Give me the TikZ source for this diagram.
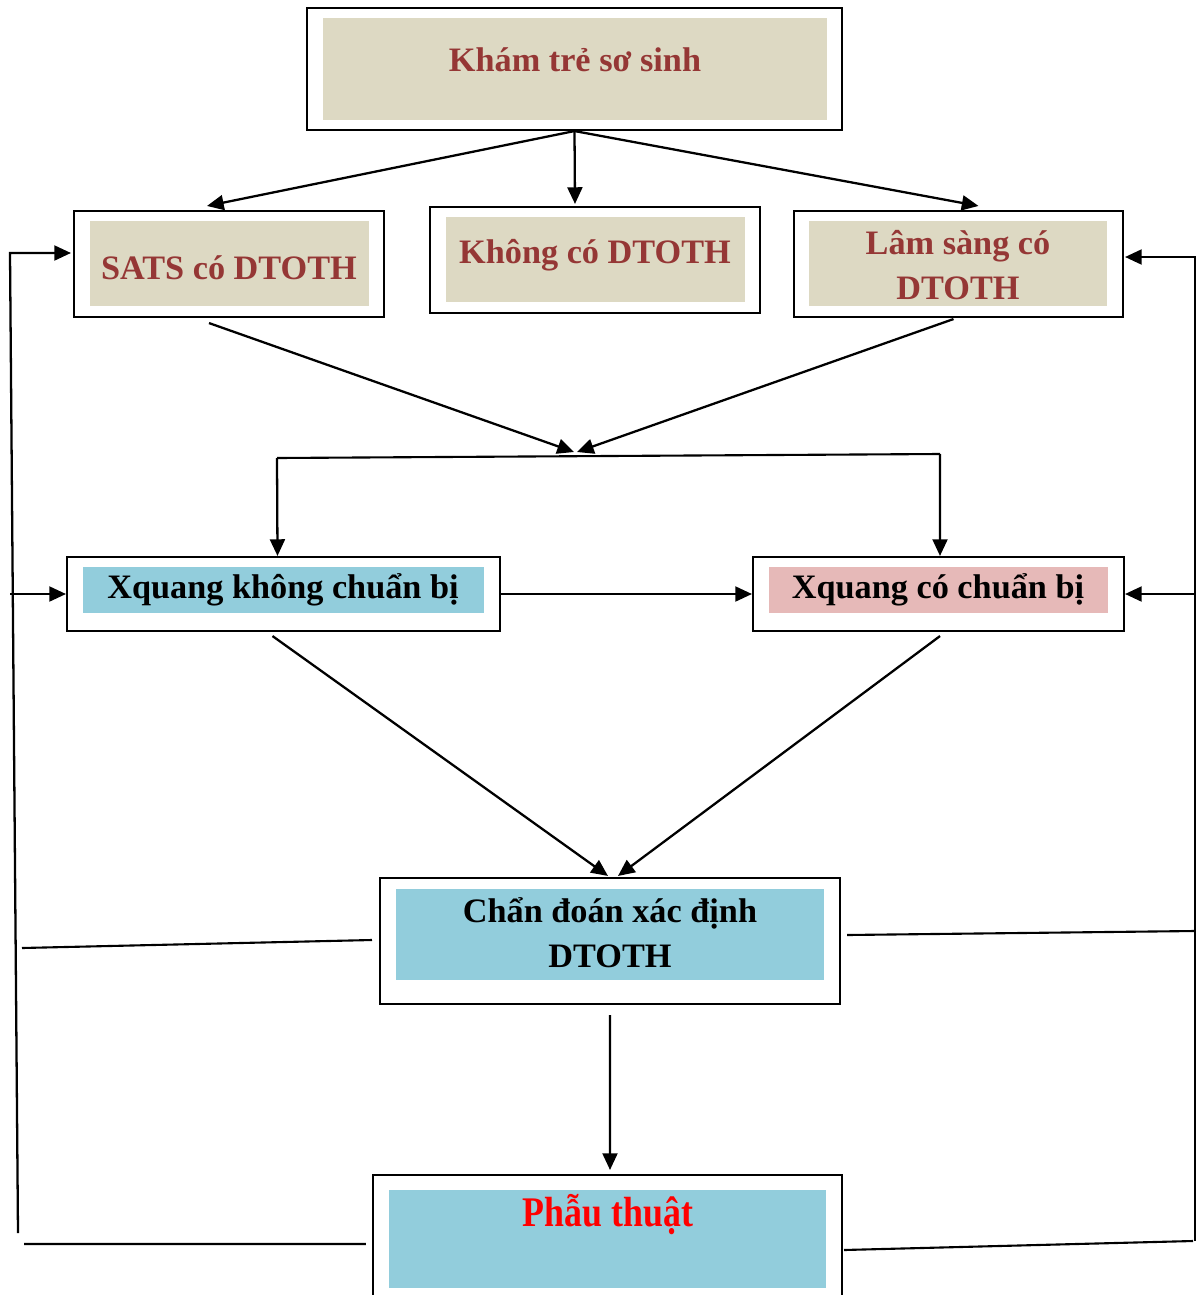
\documentclass[tikz,border=0pt]{standalone}
\usepackage{fontspec}
\setmainfont{Liberation Serif}
\usetikzlibrary{arrows.meta,calc}
\definecolor{darkred}{HTML}{953735}
\definecolor{beige}{HTML}{DDD9C3}
\definecolor{skyblue}{HTML}{92CDDC}
\definecolor{rosepink}{HTML}{E6B9B8}
\begin{document}
\begin{tikzpicture}[x=0.02cm, y=-0.02cm,
        frame/.style={rectangle, draw, line width=1.2pt, inner sep=0pt},
        panel/.style={rectangle, inner sep=0pt},
        txt/.style={font=\fontsize{19.5}{25.5}\selectfont\bfseries, align=center, inner sep=0pt},
        arr/.style={-{Triangle[length=9.5pt,width=8.5pt]}, line width=1.3pt},
        link/.style={line width=1.2pt}
    ]
    \useasboundingbox (0,0) rectangle (1201,1295);
    % top box
    \node[panel, fill=beige, minimum width=10.08cm, minimum height=2.04cm] (khamP) at (575,69) {};
    \node[frame, minimum width=10.7cm, minimum height=2.44cm] (kham) at (574.5,69) {};
    \node[txt, text=darkred] (khamT) at (575,60) {Khám trẻ sơ sinh};
    % second row
    \node[panel, fill=beige, minimum width=5.58cm, minimum height=1.7cm] (satsP) at (229.5,263.5) {};
    \node[frame, minimum width=6.2cm, minimum height=2.12cm] (sats) at (229,264) {};
    \node[txt, text=darkred] (satsT) at (229,268) {SATS có DTOTH};
    \node[panel, fill=beige, minimum width=5.98cm, minimum height=1.7cm] (khongP) at (595.5,259.5) {};
    \node[frame, minimum width=6.6cm, minimum height=2.12cm] (khong) at (595,260) {};
    \node[txt, text=darkred] (khongT) at (595,255) {Không có DTOTH};
    \node[panel, fill=beige, minimum width=5.96cm, minimum height=1.7cm] (lamP) at (958,263.5) {};
    \node[frame, minimum width=6.58cm, minimum height=2.12cm] (lam) at (958.5,264) {};
    \node[txt, text=darkred] (lamT) at (958,265) {Lâm sàng có\\DTOTH};
    % x-ray row
    \node[panel, fill=skyblue, minimum width=8.02cm, minimum height=0.92cm] (xkP) at (283.5,590) {};
    \node[frame, minimum width=8.66cm, minimum height=1.48cm] (xk) at (283.5,594) {};
    \node[txt] (xkT) at (283,590) {Xquang không chuẩn bị};
    \node[panel, fill=rosepink, minimum width=6.78cm, minimum height=0.92cm] (xcP) at (938.5,590) {};
    \node[frame, minimum width=7.42cm, minimum height=1.48cm] (xc) at (938.5,594) {};
    \node[txt] (xcT) at (938,590) {Xquang có chuẩn bị};
    % diagnosis and surgery
    \node[panel, fill=skyblue, minimum width=8.56cm, minimum height=1.82cm] (chanP) at (610,934.5) {};
    \node[frame, minimum width=9.2cm, minimum height=2.52cm] (chan) at (610,941) {};
    \node[txt] (chanT) at (610,933) {Chẩn đoán xác định\\DTOTH};
    \node[panel, fill=skyblue, minimum width=8.74cm, minimum height=1.96cm] (phauP) at (607.5,1239) {};
    \node[frame, minimum width=9.38cm, minimum height=2.7cm] (phau) at (607.5,1242.5) {};
    \node[txt, text=red, font=\fontsize{24}{28}\selectfont\bfseries] (phauT) at (608,1215) {\scalebox{0.85}[1]{Phẫu thuật}};
    % helper points
    \coordinate (meet) at (577,452);
    \coordinate (splitL) at (277,458);
    \coordinate (splitR) at (940,454);
    \coordinate (lt) at (10,253);
    \coordinate (lb) at (18,1233);
    \coordinate (lm) at (10,594);
    \coordinate (lc) at (22,948);
    \coordinate (lp) at (24,1244);
    \coordinate (rt) at (1195,257);
    \coordinate (rb) at (1195,1241);
    \coordinate (rm) at (1195,594);
    \coordinate (rc) at (1195,931);
    \coordinate (rp) at (1193,1241);
    % connectors
    \draw[arr] (kham.south) -- ($(sats.north)+(-22,-4)$);
    \draw[arr] (kham.south) -- ($(khong.north)+(-20,-2)$);
    \draw[arr] (kham.south) -- ($(lam.north)+(20,-4)$);
    \draw[arr] ($(sats.south)+(-20,5)$) -- ($(meet)+(-3,0)$);
    \draw[arr] ($(lam.south)+(-5,1)$) -- (meet);
    \draw[link] (splitL) -- (splitR);
    \draw[arr] (splitL) -- ($(xk.north)+(-6,0)$);
    \draw[arr] (splitR) -- ($(xc.north)+(1.5,0)$);
    \draw[arr] (xk.east) -- (xc.west);
    \draw[arr] ($(xk.south)+(-11,4)$) -- ($(chan.north)+(-2,-1)$);
    \draw[arr] ($(xc.south)+(1.5,4)$) -- ($(chan.north)+(8,-1)$);
    \draw[arr] ($(chan.south)+(0,10)$) -- ($(phau.north)+(2.5,-4)$);
    % side loops
    \draw[arr] (lb) -- (lt) -- ($(sats.west)+(-2,-11)$);
    \draw[arr] (lm) -- (xk.west);
    \draw[link] (lc) -- ($(chan.west)+(-7,-1)$);
    \draw[link] (lp) -- ($(phau.west)+(-6,1.5)$);
    \draw[link] ($(chan.east)+(6,-6)$) -- (rc);
    \draw[link] ($(phau.east)+(1,7.5)$) -- (rp);
    \draw[arr] (rb) -- (rt) -- ($(lam.east)+(1,-7)$);
    \draw[arr] (rm) -- (xc.east);
\end{tikzpicture}
\end{document}
